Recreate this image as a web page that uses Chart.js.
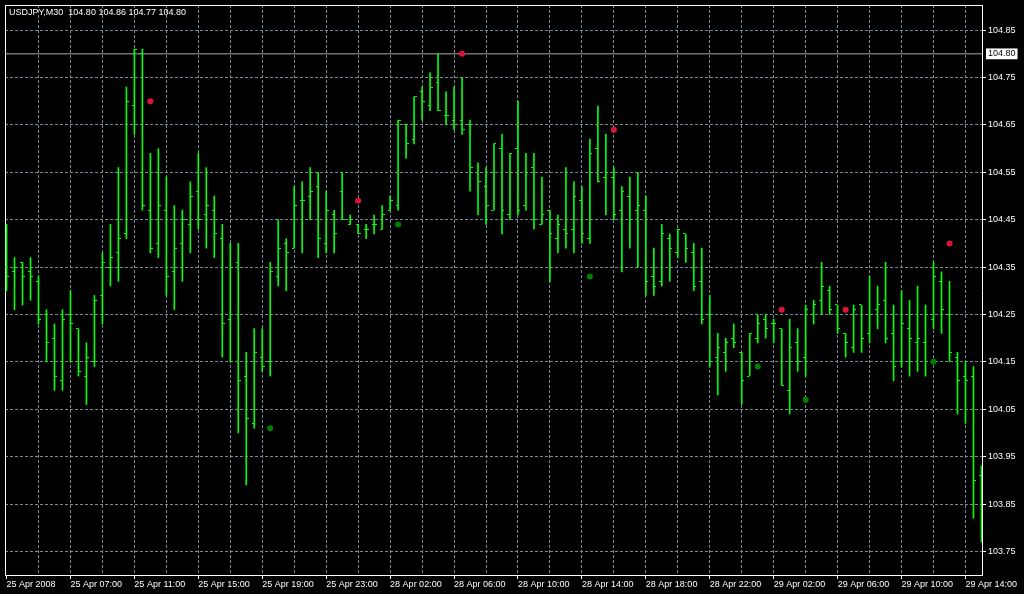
<!DOCTYPE html>
<html>
<head>
<meta charset="utf-8">
<title>USDJPY,M30</title>
<script src="https://cdn.jsdelivr.net/npm/chart.js@4.4.1/dist/chart.umd.min.js"></script>
<style>
  html, body { margin: 0; padding: 0; background: #000; }
  #wrap { width: 1024px; height: 594px; }
</style>
</head>
<body>
<div id="wrap"><canvas id="chart" width="1024" height="594"></canvas></div>
<script>
// header line, same as the terminal shows it
const symbolTitle = 'USDJPY,M30  104.80 104.86 104.77 104.80'

// time labels, one every 8 bars (M30)
const timeLabels = ['25 Apr 2008', '25 Apr 07:00', '25 Apr 11:00', '25 Apr 15:00', '25 Apr 19:00', '25 Apr 23:00',
  '28 Apr 02:00', '28 Apr 06:00', '28 Apr 10:00', '28 Apr 14:00', '28 Apr 18:00', '28 Apr 22:00',
  '29 Apr 02:00', '29 Apr 06:00', '29 Apr 10:00', '29 Apr 14:00']

const priceTicks = [103.75, 103.85, 103.95, 104.05, 104.15, 104.25, 104.35, 104.45, 104.55, 104.65, 104.75, 104.85]
const lastPrice = 104.80

// OHLC of the 123 bars
const barOpen = [104.35, 104.34, 104.36, 104.34, 104.32, 104.25, 104.20, 104.11, 104.25, 104.22,
  104.12, 104.15, 104.29, 104.35, 104.38, 104.42, 104.69, 104.80, 104.47, 104.40,
  104.47, 104.34, 104.40, 104.44, 104.51, 104.46, 104.47, 104.41, 104.24, 104.36,
  104.12, 104.02, 104.16, 104.15, 104.33, 104.40, 104.39, 104.49, 104.50, 104.52,
  104.40, 104.46, 104.51, 104.44, 104.44, 104.43, 104.44, 104.43, 104.47, 104.48,
  104.65, 104.62, 104.72, 104.69, 104.74, 104.67, 104.66, 104.66, 104.65, 104.55,
  104.52, 104.47, 104.60, 104.46, 104.60, 104.48, 104.56, 104.44, 104.47, 104.41,
  104.43, 104.43, 104.49, 104.41, 104.60, 104.54, 104.54, 104.47, 104.50, 104.47,
  104.47, 104.33, 104.32, 104.41, 104.38, 104.42, 104.38, 104.32, 104.25, 104.16,
  104.17, 104.20, 104.17, 104.12, 104.20, 104.24, 104.23, 104.22, 104.09, 104.19,
  104.16, 104.25, 104.28, 104.30, 104.27, 104.21, 104.18, 104.27, 104.21, 104.26,
  104.28, 104.21, 104.15, 104.22, 104.19, 104.19, 104.24, 104.32, 104.25, 104.16,
  104.12, 104.12, 103.91]
const barHigh = [104.44, 104.37, 104.36, 104.37, 104.33, 104.26, 104.23, 104.26, 104.30, 104.22,
  104.19, 104.29, 104.38, 104.44, 104.56, 104.73, 104.81, 104.81, 104.59, 104.60,
  104.54, 104.48, 104.47, 104.53, 104.59, 104.56, 104.50, 104.44, 104.40, 104.40,
  104.17, 104.22, 104.22, 104.36, 104.45, 104.41, 104.52, 104.53, 104.56, 104.55,
  104.51, 104.47, 104.55, 104.46, 104.44, 104.44, 104.46, 104.48, 104.50, 104.66,
  104.65, 104.71, 104.73, 104.76, 104.80, 104.72, 104.73, 104.75, 104.66, 104.57,
  104.56, 104.61, 104.63, 104.59, 104.70, 104.59, 104.59, 104.54, 104.47, 104.46,
  104.56, 104.53, 104.52, 104.62, 104.69, 104.63, 104.56, 104.52, 104.54, 104.55,
  104.50, 104.39, 104.44, 104.42, 104.43, 104.42, 104.40, 104.39, 104.29, 104.21,
  104.20, 104.23, 104.17, 104.21, 104.25, 104.25, 104.24, 104.22, 104.24, 104.22,
  104.27, 104.28, 104.36, 104.31, 104.27, 104.21, 104.27, 104.27, 104.33, 104.31,
  104.36, 104.27, 104.30, 104.28, 104.31, 104.27, 104.36, 104.34, 104.32, 104.17,
  104.15, 104.14, 103.93]
const barLow = [104.30, 104.26, 104.27, 104.28, 104.23, 104.15, 104.09, 104.09, 104.15, 104.12,
  104.06, 104.14, 104.23, 104.31, 104.32, 104.41, 104.63, 104.47, 104.38, 104.37,
  104.29, 104.26, 104.32, 104.38, 104.43, 104.39, 104.37, 104.16, 104.15, 104.00,
  103.89, 104.01, 104.13, 104.12, 104.31, 104.30, 104.39, 104.38, 104.45, 104.37,
  104.38, 104.38, 104.45, 104.44, 104.42, 104.41, 104.42, 104.43, 104.47, 104.47,
  104.58, 104.61, 104.66, 104.68, 104.68, 104.65, 104.64, 104.63, 104.51, 104.46,
  104.44, 104.47, 104.42, 104.45, 104.46, 104.47, 104.43, 104.44, 104.32, 104.38,
  104.39, 104.38, 104.40, 104.40, 104.53, 104.46, 104.45, 104.34, 104.39, 104.35,
  104.29, 104.29, 104.31, 104.32, 104.37, 104.36, 104.30, 104.23, 104.14, 104.08,
  104.13, 104.18, 104.06, 104.12, 104.19, 104.20, 104.19, 104.10, 104.04, 104.13,
  104.12, 104.23, 104.25, 104.25, 104.21, 104.16, 104.17, 104.17, 104.19, 104.22,
  104.19, 104.11, 104.14, 104.12, 104.13, 104.12, 104.22, 104.21, 104.15, 104.04,
  104.02, 103.82, 103.77]
const barClose = [104.33, 104.35, 104.33, 104.33, 104.24, 104.19, 104.12, 104.24, 104.23, 104.13,
  104.16, 104.28, 104.36, 104.37, 104.41, 104.70, 104.81, 104.48, 104.39, 104.48,
  104.33, 104.39, 104.45, 104.50, 104.45, 104.48, 104.42, 104.23, 104.35, 104.11,
  104.03, 104.17, 104.14, 104.34, 104.39, 104.38, 104.48, 104.49, 104.51, 104.41,
  104.47, 104.42, 104.45, 104.45, 104.42, 104.43, 104.44, 104.46, 104.49, 104.66,
  104.61, 104.71, 104.70, 104.73, 104.68, 104.67, 104.65, 104.64, 104.56, 104.53,
  104.48, 104.61, 104.47, 104.59, 104.47, 104.55, 104.45, 104.46, 104.42, 104.44,
  104.42, 104.50, 104.42, 104.59, 104.53, 104.55, 104.46, 104.51, 104.45, 104.48,
  104.32, 104.31, 104.42, 104.39, 104.43, 104.39, 104.31, 104.24, 104.15, 104.18,
  104.19, 104.19, 104.11, 104.21, 104.23, 104.22, 104.23, 104.10, 104.18, 104.15,
  104.26, 104.27, 104.31, 104.26, 104.22, 104.19, 104.26, 104.20, 104.25, 104.27,
  104.20, 104.14, 104.23, 104.20, 104.20, 104.25, 104.33, 104.26, 104.17, 104.11,
  104.11, 103.90, 103.92]

// indicator dots (bar index + price)
const upDotBars = [18, 44, 57, 76, 97, 105, 118]
const upDotPrices = [104.70, 104.49, 104.80, 104.64, 104.26, 104.26, 104.40]
const downDotBars = [33, 49, 73, 94, 100, 116]
const downDotPrices = [104.01, 104.44, 104.33, 104.14, 104.07, 104.15]

const barColor = '#00ff00'
const gridColor = '#778899'
const clear = 'rgba(0,0,0,0)'

// axis limits: 8px per bar, 0.10 = ~47.6px
const xMin = -0.1875, xMax = 122.0625
const yMin = 103.7002, yMax = 104.9031

Chart.defaults.color = '#ffffff'
Chart.defaults.font.family = 'Liberation Sans'
Chart.defaults.font.size = 9

// little open/close tick images used as point styles
function makeTick(side) {
  const c = document.createElement('canvas')
  c.width = 5
  c.height = 1
  const g = c.getContext('2d')
  g.fillStyle = barColor
  g.fillRect(side === 'left' ? 0 : 3, 0, 2, 1)
  return c
}
const openTick = makeTick('left')
const closeTick = makeTick('right')

const gridBars = []
for (let i = 0; i <= 120; i += 4) gridBars.push(i)

const headerPlugin = {
  id: 'header',
  beforeDatasetsDraw(chart) { chart.ctx.imageSmoothingEnabled = false },
  afterDraw(chart) {
    const ctx = chart.ctx
    ctx.save()
    ctx.font = '9px "Liberation Sans"'
    ctx.fillStyle = '#ffffff'
    ctx.textBaseline = 'top'
    ctx.fillText(symbolTitle, chart.chartArea.left + 4, chart.chartArea.top + 3)
    ctx.restore()
  }
}

const noPad = s => { s.paddingTop = 0; s.paddingBottom = 0; s.paddingLeft = 0; s.paddingRight = 0 }

new Chart(document.getElementById('chart'), {
  type: 'bar',
  data: {
    datasets: [
      {
        type: 'line',
        data: [{ x: xMin, y: lastPrice }, { x: xMax, y: lastPrice }],
        borderColor: '#a8a8a8',
        borderWidth: 1,
        pointRadius: 0,
        order: 10
      },
      {
        type: 'bar',
        data: barHigh.map((h, i) => ({ x: i, y: [barLow[i], h] })),
        backgroundColor: barColor,
        borderWidth: 0,
        barThickness: 1,
        grouped: false,
        order: 5
      },
      {
        type: 'line',
        data: barOpen.map((v, i) => ({ x: i, y: v })),
        showLine: false,
        pointStyle: openTick,
        pointRadius: 3,
        order: 4
      },
      {
        type: 'line',
        data: barClose.map((v, i) => ({ x: i, y: v })),
        showLine: false,
        pointStyle: closeTick,
        pointRadius: 3,
        order: 3
      },
      {
        type: 'line',
        data: upDotBars.map((b, i) => ({ x: b, y: upDotPrices[i] })),
        showLine: false,
        pointStyle: 'circle',
        pointRadius: 3,
        pointBorderWidth: 0,
        pointBackgroundColor: '#dc143c',
        order: 1
      },
      {
        type: 'line',
        data: downDotBars.map((b, i) => ({ x: b, y: downDotPrices[i] })),
        showLine: false,
        pointStyle: 'circle',
        pointRadius: 3,
        pointBorderWidth: 0,
        pointBackgroundColor: '#008000',
        order: 1
      }
    ]
  },
  options: {
    responsive: false,
    animation: false,
    devicePixelRatio: 1,
    events: [],
    layout: { padding: 0 },
    plugins: {
      legend: { display: false },
      tooltip: { enabled: false }
    },
    scales: {
      x: {
        type: 'linear',
        position: 'bottom',
        min: xMin,
        max: xMax,
        offset: false,
        afterBuildTicks: s => { s.ticks = gridBars.map(v => ({ value: v })) },
        afterFit: s => { s.height = 19; noPad(s) },
        grid: {
          offset: false,
          color: c => (c.tick && c.tick.value === 0 ? clear : gridColor),
          tickColor: c => (c.tick && c.tick.value % 8 === 0 ? '#ffffff' : clear),
          tickLength: 4
        },
        border: { color: '#ffffff', dash: [3, 2] },
        ticks: {
          autoSkip: false,
          maxRotation: 0,
          align: 'start',
          padding: 0,
          callback: v => (v % 8 === 0 ? timeLabels[v / 8] : '')
        }
      },
      y: {
        type: 'linear',
        position: 'right',
        min: yMin,
        max: yMax,
        afterBuildTicks: s => { s.ticks = priceTicks.concat([lastPrice]).map(v => ({ value: v })) },
        afterFit: s => { s.width = 42; noPad(s) },
        grid: {
          color: c => (c.tick && c.tick.value === lastPrice ? clear : gridColor),
          tickColor: c => (c.tick && c.tick.value === lastPrice ? clear : '#ffffff'),
          tickLength: 4
        },
        border: { color: '#ffffff', dash: [3, 2] },
        ticks: {
          autoSkip: false,
          padding: 2,
          callback: v => v.toFixed(2),
          color: c => (c.tick && c.tick.value === lastPrice ? '#000000' : '#ffffff'),
          showLabelBackdrop: c => !!(c.tick && c.tick.value === lastPrice),
          backdropColor: '#ffffff',
          backdropPadding: { top: 0, bottom: 0, left: 2, right: 2 }
        }
      },
      xTop: {
        axis: 'x',
        type: 'linear',
        position: 'top',
        ticks: { display: false },
        grid: { display: false, drawTicks: false },
        border: { color: '#ffffff' },
        afterFit: s => { s.height = 2; noPad(s) }
      },
      yLeft: {
        axis: 'y',
        type: 'linear',
        position: 'left',
        ticks: { display: false },
        grid: { display: false, drawTicks: false },
        border: { color: '#ffffff' },
        afterFit: s => { s.width = 4; noPad(s) }
      }
    }
  },
  plugins: [headerPlugin]
})
</script>
</body>
</html>
